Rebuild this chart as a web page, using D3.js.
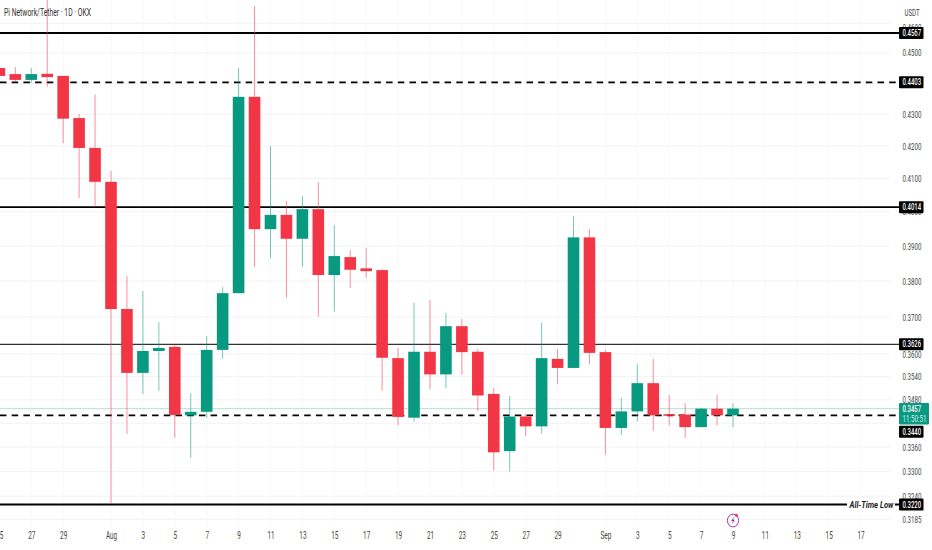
<!DOCTYPE html>
<html>
<head>
<meta charset="utf-8">
<script src="https://cdn.jsdelivr.net/npm/d3@7"></script>
<style>
    html, body { margin: 0; padding: 0; background: #fff; overflow: hidden; }
    text { font-family: Roboto, "Liberation Sans", sans-serif; }
</style>
</head>
<body>
<svg id="chart" width="932" height="550"></svg>
<script>
// Candles, one per day
var dates = ["2025-07-25","2025-07-26","2025-07-27","2025-07-28","2025-07-29","2025-07-30","2025-07-31",
    "2025-08-01","2025-08-02","2025-08-03","2025-08-04","2025-08-05","2025-08-06","2025-08-07","2025-08-08",
    "2025-08-09","2025-08-10","2025-08-11","2025-08-12","2025-08-13","2025-08-14","2025-08-15","2025-08-16",
    "2025-08-17","2025-08-18","2025-08-19","2025-08-20","2025-08-21","2025-08-22","2025-08-23","2025-08-24",
    "2025-08-25","2025-08-26","2025-08-27","2025-08-28","2025-08-29","2025-08-30","2025-08-31",
    "2025-09-01","2025-09-02","2025-09-03","2025-09-04","2025-09-05","2025-09-06","2025-09-07","2025-09-08","2025-09-09"];
var opens = [.4450,.4430,.4411,.4431,.4424,.4288,.4194,
    .4090,.3722,.3550,.3608,.3619,.3440,.3449,.3611,
    .3766,.4356,.3949,.3991,.3921,.4008,.3817,.3868,
    .3836,.3831,.3589,.3434,.3606,.3546,.3675,.3606,
    .3495,.3350,.3437,.3412,.3587,.3563,.3925,
    .3605,.3408,.3450,.3523,.3443,.3442,.3410,.3457,.3440];
var highs = [.4450,.4453,.4450,.4697,.4424,.4301,.4363,
    .4123,.3814,.3772,.3686,.3624,.3497,.3648,.3783,
    .4450,.4659,.4200,.4032,.4047,.4089,.3961,.3888,
    .3895,.3834,.3616,.3739,.3747,.3712,.3695,.3613,
    .3510,.3490,.3443,.3684,.3613,.3988,.3949,
    .3611,.3485,.3573,.3587,.3492,.3471,.3459,.3493,.3471];
var lows = [.4424,.4404,.4401,.4388,.4209,.4041,.4014,
    .3223,.3393,.3495,.3503,.3383,.3333,.3433,.3587,
    .3766,.3840,.3865,.3753,.3840,.3701,.3715,.3780,
    .3809,.3503,.3415,.3424,.3508,.3509,.3545,.3451,
    .3302,.3300,.3388,.3394,.3521,.3563,.3573,
    .3341,.3390,.3425,.3401,.3414,.3383,.3410,.3415,.3410];
var closes = [.4424,.4411,.4430,.4420,.4286,.4194,.4090,
    .3722,.3550,.3608,.3616,.3441,.3449,.3611,.3766,
    .4356,.3949,.3991,.3921,.4008,.3817,.3871,.3832,
    .3828,.3590,.3436,.3606,.3546,.3675,.3605,.3491,
    .3347,.3437,.3412,.3589,.3563,.3925,.3603,
    .3408,.3450,.3523,.3440,.3439,.3410,.3457,.3440,.3457];

// Axis labels, 0.44 and 0.342 only have a grid line as their labels are hidden behind tags
var priceTicks = [0.4600,0.4500,0.4300,0.4200,0.4100,0.4000,0.3900,0.3800,0.3700,0.3600,0.3540,0.3480,0.3360,0.3300,0.3240,0.3185];
var gridOnly = [0.4400,0.3420];
var timeTicks = ["2025-07-25","2025-07-27","2025-07-29","2025-08-01","2025-08-03","2025-08-05","2025-08-07","2025-08-09",
    "2025-08-11","2025-08-13","2025-08-15","2025-08-17","2025-08-19","2025-08-21","2025-08-23","2025-08-25","2025-08-27","2025-08-29",
    "2025-09-01","2025-09-03","2025-09-05","2025-09-07","2025-09-09","2025-09-11","2025-09-13","2025-09-15","2025-09-17"];

// Drawn support / resistance levels
var levelPrices = [0.4567,0.4403,0.4014,0.3626,0.3440,0.3220];
var levelDashed = [false,true,false,false,true,false];
var levelThin = [false,false,false,true,false,false];

var lastPrice = 0.3457;
var countdown = "11:50:51";
var title = "Pi Network/Tether · 1D · OKX";
var currency = "USDT";
var lowNote = "All-Time Low";

var green = "#089981", red = "#f23645";
var axisX = 899;
var parseDay = d3.utcParse("%Y-%m-%d");

var candles = dates.map((d, i) => ({
    date: parseDay(d), open: opens[i], high: highs[i], low: lows[i], close: closes[i]
}));

// Time scale is pinned on Aug 1 and Sep 9, price scale is log
var x = d3.scaleUtc().domain([parseDay("2025-08-01"), parseDay("2025-09-09")]).range([111, 733]);
var y = d3.scaleLog().domain([0.4567, 0.3220]).range([33, 504.5]);

var svg = d3.select("#chart");

// Grid
svg.append("g").selectAll("line").data(priceTicks.concat(gridOnly)).enter().append("line")
    .attr("x1", 0).attr("x2", 890)
    .attr("y1", d => y(d)).attr("y2", d => y(d))
    .attr("stroke", "#f1f2f5").attr("stroke-width", 1);
svg.append("g").selectAll("line").data(timeTicks).enter().append("line")
    .attr("x1", d => x(parseDay(d))).attr("x2", d => x(parseDay(d)))
    .attr("y1", 0).attr("y2", 526)
    .attr("stroke", "#f8f8fa").attr("stroke-width", 1);

// Current price line
svg.append("line")
    .attr("x1", 0).attr("x2", axisX)
    .attr("y1", y(lastPrice)).attr("y2", y(lastPrice))
    .attr("stroke", "#b5e0d6").attr("stroke-width", 1);

// Horizontal levels
svg.append("g").selectAll("line").data(levelPrices).enter().append("line")
    .attr("x1", 0).attr("x2", axisX)
    .attr("y1", d => y(d)).attr("y2", d => y(d))
    .attr("stroke", (d, i) => levelThin[i] ? "#333" : "#000")
    .attr("stroke-width", (d, i) => levelThin[i] ? 1.3 : 1.8)
    .attr("stroke-dasharray", (d, i) => levelDashed[i] ? "6.5,5.2" : null);

// Candles
var candle = svg.append("g").selectAll("g").data(candles).enter().append("g");
candle.append("line")
    .attr("x1", d => x(d.date)).attr("x2", d => x(d.date))
    .attr("y1", d => y(d.high)).attr("y2", d => y(d.low))
    .attr("stroke", d => d.close >= d.open ? green : red)
    .attr("stroke-opacity", 0.55)
    .attr("stroke-width", 1);
candle.append("rect")
    .attr("x", d => x(d.date) - 5.8)
    .attr("width", 11.6)
    .attr("y", d => y(Math.max(d.open, d.close)))
    .attr("height", d => Math.max(1.5, Math.abs(y(d.open) - y(d.close))))
    .attr("fill", d => d.close >= d.open ? green : red);

// Price axis
var yAxis = svg.append("g")
    .attr("transform", `translate(${axisX},0)`)
    .call(d3.axisRight(y).tickValues(priceTicks).tickFormat(d3.format(".4f")).tickSize(0).tickPadding(3.5));
yAxis.select(".domain").remove();
yAxis.selectAll("text")
    .attr("font-size", 9.5).attr("fill", "#444")
    .attr("textLength", 19).attr("lengthAdjust", "spacingAndGlyphs");
// the 0.46 label peeks out just above the 0.4567 tag
yAxis.selectAll("text").filter(d => d === 0.46).attr("y", 4);

// Time axis
var monthFmt = d3.utcFormat("%b"), dayFmt = d3.utcFormat("%-d");
var xAxis = svg.append("g")
    .attr("transform", "translate(0,530)")
    .call(d3.axisBottom(x).tickValues(timeTicks.map(parseDay))
        .tickFormat(d => d.getUTCDate() === 1 ? monthFmt(d) : dayFmt(d))
        .tickSize(0).tickPadding(2));
xAxis.select(".domain").remove();
xAxis.selectAll("text")
    .attr("font-size", 10).attr("fill", "#444")
    .each(function(d) {
        var label = d3.select(this).text();
        d3.select(this).attr("textLength", label.length === 3 ? 11 : label.length * 3.6)
            .attr("lengthAdjust", "spacingAndGlyphs");
    });

// Level price tags, the 0.3440 one sits below the live price tag
var tag = svg.append("g").selectAll("g").data(levelPrices).enter().append("g")
    .attr("transform", d => `translate(${axisX},${y(d) + (d === 0.3440 ? 16.5 : 0)})`);
tag.append("rect")
    .attr("x", 0).attr("y", -6).attr("width", 24.5).attr("height", 12).attr("rx", 1)
    .attr("fill", "#000");
tag.append("text")
    .attr("x", 3.5).attr("dy", "0.35em")
    .attr("font-size", 9).attr("font-weight", 500).attr("fill", "#fff")
    .attr("textLength", 18.5).attr("lengthAdjust", "spacingAndGlyphs")
    .text(d => d3.format(".4f")(d));

// Live price tag
var live = svg.append("g").attr("transform", `translate(${axisX},${y(lastPrice)})`);
live.append("rect")
    .attr("x", 0).attr("y", -5.7).attr("width", 30).attr("height", 21.5).attr("rx", 1)
    .attr("fill", green);
live.append("text")
    .attr("x", 3.5).attr("y", 3.5)
    .attr("font-size", 9).attr("font-weight", 500).attr("fill", "#fff")
    .attr("textLength", 18.5).attr("lengthAdjust", "spacingAndGlyphs")
    .text(d3.format(".4f")(lastPrice));
live.append("text")
    .attr("x", 3.5).attr("y", 13)
    .attr("font-size", 8.5).attr("fill", "#d6f0ea")
    .attr("textLength", 24).attr("lengthAdjust", "spacingAndGlyphs")
    .text(countdown);

// All-Time Low note over the last line
svg.append("rect")
    .attr("x", 847).attr("y", y(0.3220) - 6).attr("width", 48).attr("height", 12)
    .attr("fill", "#fff");
svg.append("text")
    .attr("x", 849.5).attr("y", y(0.3220)).attr("dy", "0.35em")
    .attr("font-size", 9.5).attr("font-style", "italic").attr("font-weight", 700).attr("fill", "#222")
    .attr("textLength", 44).attr("lengthAdjust", "spacingAndGlyphs")
    .text(lowNote);

// Header texts
svg.append("text")
    .attr("x", 4).attr("y", 15.5)
    .attr("font-size", 10).attr("fill", "#333")
    .attr("textLength", 87).attr("lengthAdjust", "spacingAndGlyphs")
    .text(title);
svg.append("text")
    .attr("x", 904.5).attr("y", 15.5)
    .attr("font-size", 9).attr("fill", "#444")
    .attr("textLength", 15).attr("lengthAdjust", "spacingAndGlyphs")
    .text(currency);

// Lightning badge
var badge = svg.append("g").attr("transform", "translate(733,520.5)");
badge.append("ellipse")
    .attr("rx", 5.6).attr("ry", 6.4).attr("fill", "#fff").attr("stroke", "#9c27b0").attr("stroke-width", 0.9);
badge.append("path")
    .attr("d", "M1,-3.4 L-1.8,0.6 L-0.2,0.6 L-1,3.4 L1.8,-0.8 L0.2,-0.8 Z")
    .attr("fill", "#9c27b0");
badge.append("circle")
    .attr("cx", 3.4).attr("cy", -5.2).attr("r", 1.5).attr("fill", "#f23645");
</script>
</body>
</html>
